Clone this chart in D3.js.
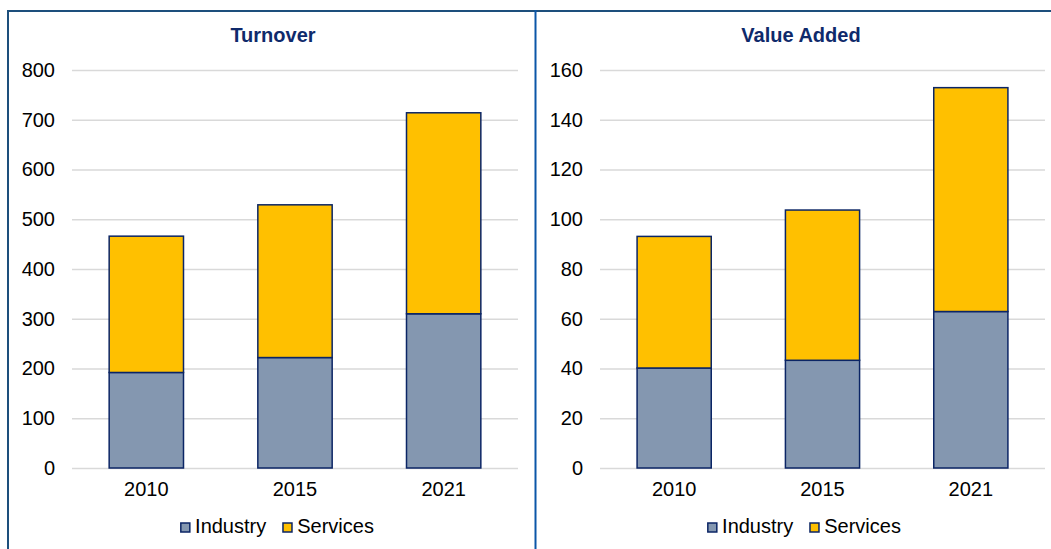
<!DOCTYPE html>
<html lang="en">
<head>
    <meta charset="UTF-8">
    <title>Turnover and Value Added</title>
    <style>
        body { margin: 0; background: #ffffff; }
        svg { display: block; font-family: "Liberation Sans", Arial, Helvetica, sans-serif; }
    </style>
</head>
<body>
    <div id="chart-wrapper"></div>

    <script src="https://d3js.org/d3.v7.min.js"></script>
    <script>
        // data
        const years = ['2010', '2015', '2021']
        const seriesNames = ['Industry', 'Services']
        const seriesColors = ['#8497b0', '#ffc000']

        const turnoverIndustry = [192, 222, 310]
        const turnoverServices = [274, 307, 404]
        const turnoverTicks = [0, 100, 200, 300, 400, 500, 600, 700, 800]

        const valueAddedIndustry = [40.2, 43.3, 62.9]
        const valueAddedServices = [52.9, 60.4, 90.0]
        const valueAddedTicks = [0, 20, 40, 60, 80, 100, 120, 140, 160]

        const width = 1051
        const height = 549
        const fontSize = 20

        const panels = [
            { title: 'Turnover', industry: turnoverIndustry, services: turnoverServices, ticks: turnoverTicks, left: 72, right: 518, titleX: 273, legendX: 277 },
            { title: 'Value Added', industry: valueAddedIndustry, services: valueAddedServices, ticks: valueAddedTicks, left: 600, right: 1045, titleX: 801, legendX: 804 }
        ]
        const plotTop = 70
        const plotBottom = 468

        const svg = d3.select('#chart-wrapper')
            .append('svg')
            .attr('width', width)
            .attr('height', height)

        panels.forEach(p => {
            const rows = years.map((year, i) => ({ year, Industry: p.industry[i], Services: p.services[i] }))
            const stacked = d3.stack().keys(seriesNames)(rows)

            const x = d3.scaleBand()
                .domain(years)
                .range([p.left, p.right])
                .paddingInner(0.5)
                .paddingOuter(0.25)

            const y = d3.scaleLinear()
                .domain([0, d3.max(p.ticks)])
                .range([plotBottom, plotTop])

            const g = svg.append('g')

            // gridlines + y labels
            const yAxis = g.append('g')
                .attr('transform', `translate(${ p.left }, 0)`)
                .call(d3.axisLeft(y).tickValues(p.ticks).tickSize(-(p.right - p.left)).tickPadding(17))
            yAxis.select('.domain').remove()
            yAxis.selectAll('line').attr('stroke', '#d9d9d9').attr('stroke-width', 1.5)
            yAxis.selectAll('text').attr('font-size', fontSize).attr('fill', '#000').attr('font-family', null)

            // bars
            g.append('g')
                .selectAll('g')
                .data(stacked)
                .enter()
                .append('g')
                .attr('fill', (d, i) => seriesColors[i])
                .selectAll('rect')
                .data(d => d)
                .enter()
                .append('rect')
                .attr('x', d => x(d.data.year))
                .attr('y', d => y(d[1]))
                .attr('width', x.bandwidth())
                .attr('height', d => y(d[0]) - y(d[1]))
                .attr('stroke', '#0b2565')
                .attr('stroke-width', 1.5)

            // x labels
            const xAxis = g.append('g')
                .attr('transform', `translate(0, ${ plotBottom })`)
                .call(d3.axisBottom(x).tickSize(0).tickPadding(14))
            xAxis.select('.domain').remove()
            xAxis.selectAll('text').attr('font-size', fontSize).attr('fill', '#000').attr('font-family', null)

            // title
            g.append('text')
                .attr('x', p.titleX)
                .attr('y', 42)
                .attr('text-anchor', 'middle')
                .attr('font-size', fontSize)
                .attr('font-weight', 'bold')
                .attr('fill', '#0f2a6b')
                .text(p.title)

            // legend
            const legend = g.append('g')
            let cursor = 0
            seriesNames.forEach((name, i) => {
                const item = legend.append('g').attr('transform', `translate(${ cursor }, 0)`)
                item.append('rect')
                    .attr('x', 0.75)
                    .attr('y', 523)
                    .attr('width', 9)
                    .attr('height', 9)
                    .attr('fill', seriesColors[i])
                    .attr('stroke', '#0b2565')
                    .attr('stroke-width', 1.5)
                const label = item.append('text')
                    .attr('x', 15)
                    .attr('y', 533)
                    .attr('font-size', fontSize)
                    .attr('fill', '#000')
                    .text(name)
                cursor += 15 + label.node().getComputedTextLength() + 16
            })
            const legendWidth = cursor - 16
            legend.attr('transform', `translate(${ p.legendX - legendWidth / 2 }, 0)`)
        })

        // frame lines
        svg.append('line')
            .attr('x1', 7).attr('x2', width)
            .attr('y1', 11).attr('y2', 11)
            .attr('stroke', '#1d4f7c').attr('stroke-width', 2)
        svg.append('line')
            .attr('x1', 8).attr('x2', 8)
            .attr('y1', 10).attr('y2', height)
            .attr('stroke', '#1d4f7c').attr('stroke-width', 2)
        svg.append('line')
            .attr('x1', 535.5).attr('x2', 535.5)
            .attr('y1', 10).attr('y2', height)
            .attr('stroke', '#0b56a8').attr('stroke-width', 2)
    </script>
</body>
</html>
